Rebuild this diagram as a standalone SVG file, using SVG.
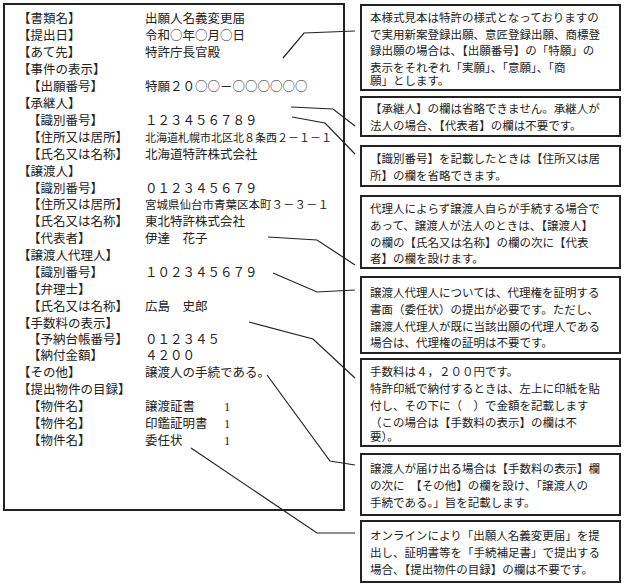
<svg xmlns="http://www.w3.org/2000/svg" width="627" height="587" viewBox="0 0 627 587">
<style>
text{font-family:"Liberation Serif","Noto Sans CJK JP",serif;font-size:12.5px;fill:#222}
.n text{font-size:11.5px}
.j{font-family:"Noto Sans CJK JP",sans-serif}
.b{fill:#fff;stroke:#222;stroke-width:2}
.c{fill:none;stroke:#222;stroke-width:1.2}
</style>
<rect width="627" height="587" fill="#fff"/>
<g id="form">
<rect class="b" x="4" y="4" width="340" height="506"/>
<text x="18" y="23">【書類名】</text><text x="145" y="23">出願人名義変更届</text>
<text x="18" y="40">【提出日】</text><text x="145" y="40" class="j">令和○年○月○日</text>
<text x="18" y="57">【あて先】</text><text x="145" y="57">特許庁長官殿</text>
<text x="18" y="74">【事件の表示】</text>
<text x="28" y="91">【出願番号】</text><text x="145" y="91" class="j">特願２０○○－○○○○○○</text>
<text x="18" y="108">【承継人】</text>
<text x="28" y="125">【識別番号】</text><text x="145" y="125">１２３４５６７８９</text>
<text x="28" y="142">【住所又は居所】</text><text x="145" y="142" style="font-size:11px">北海道札幌市北区北８条西２－１－１</text>
<text x="28" y="159">【氏名又は名称】</text><text x="145" y="159">北海道特許株式会社</text>
<text x="18" y="176">【譲渡人】</text>
<text x="28" y="193">【識別番号】</text><text x="145" y="193">０１２３４５６７９</text>
<text x="28" y="209">【住所又は居所】</text><text x="145" y="209" style="font-size:11.5px">宮城県仙台市青葉区本町３－３－１</text>
<text x="28" y="226">【氏名又は名称】</text><text x="145" y="226">東北特許株式会社</text>
<text x="28" y="243">【代表者】</text><text x="145" y="243">伊達　花子</text>
<text x="18" y="260">【譲渡人代理人】</text>
<text x="28" y="277">【識別番号】</text><text x="145" y="277">１０２３４５６７９</text>
<text x="28" y="294">【弁理士】</text>
<text x="28" y="311">【氏名又は名称】</text><text x="145" y="311">広島　史郎</text>
<text x="18" y="328">【手数料の表示】</text>
<text x="28" y="344">【予納台帳番号】</text><text x="145" y="344">０１２３４５</text>
<text x="28" y="360">【納付金額】</text><text x="145" y="360">４２００</text>
<text x="18" y="377">【その他】</text><text x="145" y="377">譲渡人の手続である。</text>
<text x="18" y="394">【提出物件の目録】</text>
<text x="28" y="411">【物件名】</text><text x="145" y="411">譲渡証書</text><text x="224" y="411">1</text>
<text x="28" y="428">【物件名】</text><text x="145" y="428">印鑑証明書</text><text x="224" y="428">1</text>
<text x="28" y="445">【物件名】</text><text x="145" y="445">委任状</text><text x="224" y="445">1</text>
</g>
<g id="connectors">
<polyline class="c" points="283,58 304,33 355,31"/>
<polyline class="c" points="291,107 333,109 355,126"/>
<polyline class="c" points="292,117 325,123 355,154"/>
<polyline class="c" points="268,237 317,240 355,265"/>
<polyline class="c" points="273,273 317,292 355,290"/>
<polyline class="c" points="249,322 313,339 355,378"/>
<polyline class="c" points="267,375 330,461 355,465"/>
<polyline class="c" points="191,448 317,533 355,533"/>
</g>
<g class="n" id="note1"><rect class="b" x="361" y="5" width="259" height="85"/>
<text x="370" y="22">本様式見本は特許の様式となっておりますの</text>
<text x="370" y="39">で実用新案登録出願、意匠登録出願、商標登</text>
<text x="370" y="55">録出願の場合は、【出願番号】の「特願」の</text>
<text x="370" y="72">表示をそれぞれ「実願」、「意願」、「商</text>
<text x="370" y="85">願」とします。</text></g>
<g class="n" id="note2"><rect class="b" x="361" y="97" width="259" height="39"/>
<text x="370" y="113">【承継人】の欄は省略できません。承継人が</text>
<text x="370" y="130">法人の場合、【代表者】の欄は不要です。</text></g>
<g class="n" id="note3"><rect class="b" x="361" y="146" width="259" height="40"/>
<text x="370" y="163">【識別番号】を記載したときは【住所又は居</text>
<text x="370" y="180">所】の欄を省略できます。</text></g>
<g class="n" id="note4"><rect class="b" x="361" y="196" width="259" height="72"/>
<text x="370" y="213">代理人によらず譲渡人自らが手続する場合で</text>
<text x="370" y="230">あって、譲渡人が法人のときは、【譲渡人】</text>
<text x="370" y="247">の欄の【氏名又は名称】の欄の次に【代表</text>
<text x="370" y="263">者】の欄を設けます。</text></g>
<g class="n" id="note5"><rect class="b" x="361" y="277" width="259" height="76"/>
<text x="370" y="297">譲渡人代理人については、代理権を証明する</text>
<text x="370" y="314">書面（委任状）の提出が必要です。ただし、</text>
<text x="370" y="331">譲渡人代理人が既に当該出願の代理人である</text>
<text x="370" y="347">場合は、代理権の証明は不要です。</text></g>
<g class="n" id="note6"><rect class="b" x="361" y="359" width="259" height="87"/>
<text x="370" y="376">手数料は４，２００円です。</text>
<text x="370" y="393">特許印紙で納付するときは、左上に印紙を貼</text>
<text x="370" y="410">付し、その下に（　）で金額を記載します</text>
<text x="370" y="427">（この場合は【手数料の表示】の欄は不</text>
<text x="370" y="441">要）。</text></g>
<g class="n" id="note7"><rect class="b" x="361" y="454" width="259" height="61"/>
<text x="370" y="473">譲渡人が届け出る場合は【手数料の表示】欄</text>
<text x="370" y="490">の次に　【その他】の欄を設け、「譲渡人の</text>
<text x="370" y="507">手続である。」旨を記載します。</text></g>
<g class="n" id="note8"><rect class="b" x="361" y="521" width="259" height="61"/>
<text x="370" y="540">オンラインにより「出願人名義変更届」を提</text>
<text x="370" y="557">出し、証明書等を「手続補足書」で提出する</text>
<text x="370" y="574">場合、【提出物件の目録】の欄は不要です。</text></g>
</svg>
